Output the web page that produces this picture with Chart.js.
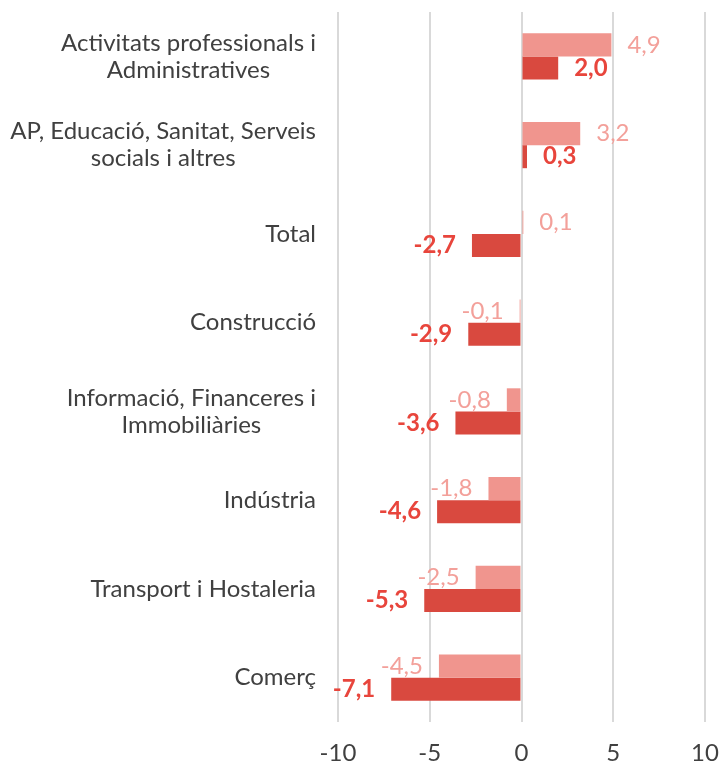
<!DOCTYPE html>
<html>
<head>
<meta charset="utf-8">
<script src="https://cdn.jsdelivr.net/npm/chart.js@4"></script>
<style>
html,body{margin:0;padding:0;background:#fff;}
#wrap{width:722px;height:764px;position:relative;}
</style>
</head>
<body>
<div id="wrap"><canvas id="c"></canvas></div>
<script>
const categories = [
  ["Activitats professionals i", "Administratives"],
  ["AP, Educació, Sanitat, Serveis", "socials i altres"],
  ["Total"],
  ["Construcció"],
  ["Informació, Financeres i", "Immobiliàries"],
  ["Indústria"],
  ["Transport i Hostaleria"],
  ["Comerç"]
];
const seriesLight = [4.9, 3.2, 0.1, -0.1, -0.8, -1.8, -2.5, -4.5];
const seriesDark = [2.0, 0.3, -2.7, -2.9, -3.6, -4.6, -5.3, -7.1];
const xTicks = [-10, -5, 0, 5, 10];

const FONT = "Lato, 'Open Sans', sans-serif";

const labelPlugin = {
  id: 'customLabels',
  afterDatasetsDraw(chart) {
    const ctx = chart.ctx;
    ctx.save();
    chart.data.datasets.forEach((ds, di) => {
      const meta = chart.getDatasetMeta(di);
      meta.data.forEach((bar, i) => {
        const v = ds.data[i];
        const txt = v.toFixed(1).replace('.', ',');
        ctx.font = (di === 1 ? 'bold ' : '') + '24px ' + FONT;
        ctx.fillStyle = di === 1 ? '#E8453C' : '#F3A09A';
        ctx.textBaseline = 'middle';
        const zero = chart.scales.x.getPixelForValue(0);
        if (v >= 0) {
          ctx.textAlign = 'left';
          ctx.fillText(txt, Math.max(bar.x, zero) + 16, bar.y);
        } else {
          ctx.textAlign = 'right';
          ctx.fillText(txt, Math.min(bar.x, zero) - 16, bar.y);
        }
      });
    });
    // category labels
    const ys = chart.scales.y;
    ctx.font = '24px ' + FONT;
    ctx.fillStyle = '#404040';
    ctx.textAlign = 'center';
    ctx.textBaseline = 'middle';
    const right = 316;
    const lh = 27;
    categories.forEach((lines, i) => {
      const yc = ys.getPixelForTick(i);
      let w = 0;
      lines.forEach(l => { w = Math.max(w, ctx.measureText(l).width); });
      const cx = right - w / 2;
      const y0 = yc - (lines.length - 1) * lh / 2;
      lines.forEach((l, k) => ctx.fillText(l, cx, y0 + k * lh));
    });
    ctx.restore();
  }
};

new Chart(document.getElementById('c'), {
  type: 'bar',
  data: {
    labels: categories,
    datasets: [
      { data: seriesLight, backgroundColor: '#F0958E', barPercentage: 1, categoryPercentage: 0.52 },
      { data: seriesDark, backgroundColor: '#D9493F', barPercentage: 1, categoryPercentage: 0.52 }
    ]
  },
  options: {
    indexAxis: 'y',
    responsive: true,
    maintainAspectRatio: false,
    animation: false,
    layout: { padding: { top: 12, right: 17, bottom: 0, left: 0 } },
    plugins: { legend: { display: false }, tooltip: { enabled: false } },
    scales: {
      x: {
        min: -10, max: 10,
        afterBuildTicks(scale) { scale.ticks = xTicks.map(v => ({ value: v })); },
        afterFit(scale) { scale.height = 42; scale.paddingRight = 0; scale.paddingLeft = 0; },
        grid: { color: '#D9D9D9', lineWidth: 2, drawTicks: false },
        border: { display: false },
        ticks: { font: { family: FONT, size: 24 }, color: '#404040', padding: 17 }
      },
      y: {
        afterFit(scale) { scale.width = 338; },
        grid: { display: false, drawTicks: false },
        border: { display: false },
        ticks: { display: false }
      }
    }
  },
  plugins: [labelPlugin]
});
</script>
</body>
</html>
